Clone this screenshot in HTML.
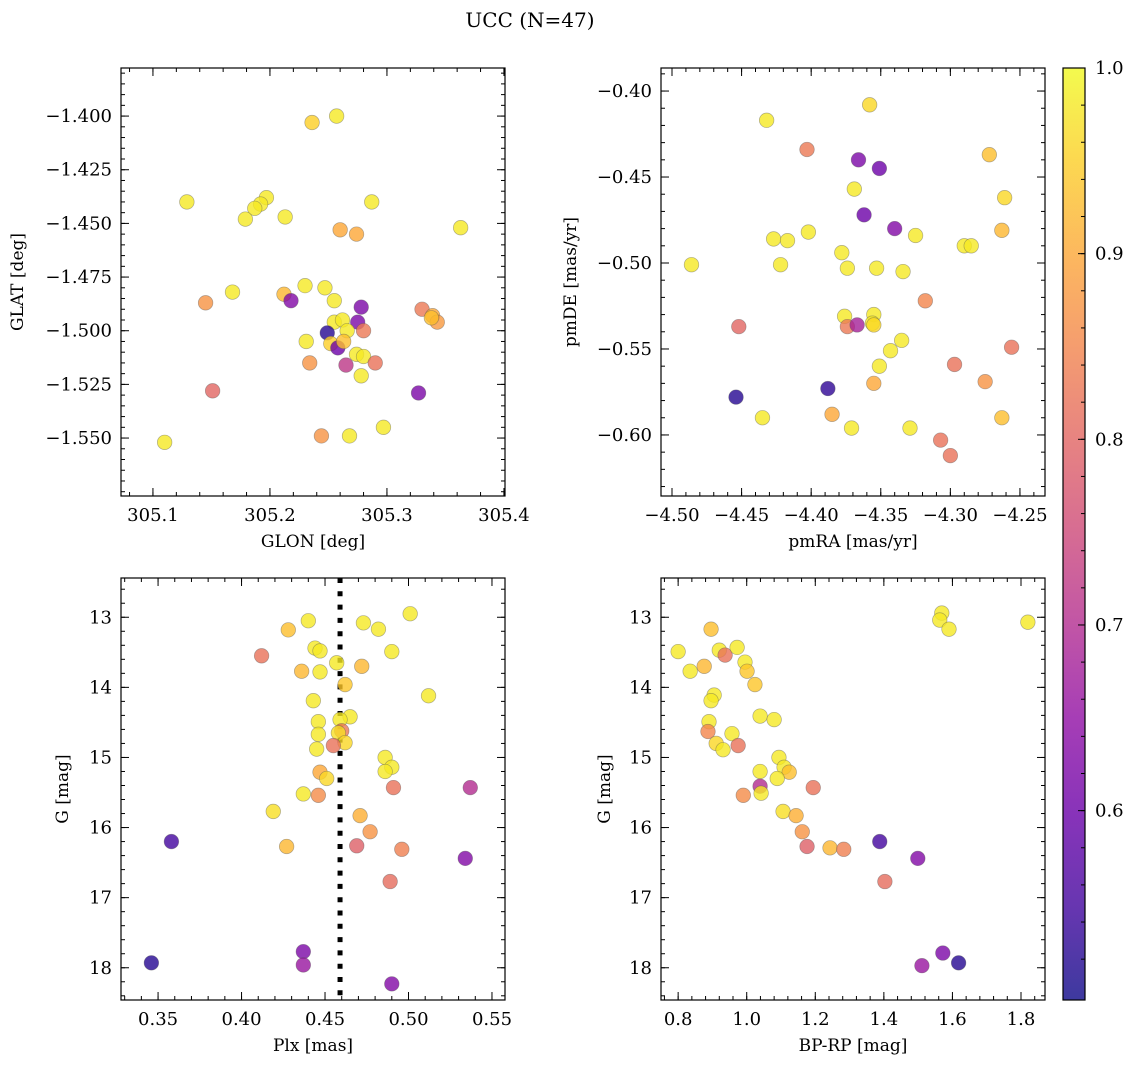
<!DOCTYPE html>
<html><head><meta charset="utf-8">
<style>
body{margin:0;background:#fff;}
svg text{font-family:"DejaVu Serif","Liberation Serif",serif;fill:#000;}
</style></head>
<body>
<svg id="fig" width="1136" height="1068" viewBox="0 0 1136 1068" xmlns="http://www.w3.org/2000/svg">
<defs>
<linearGradient id="cbgrad" x1="0" y1="1" x2="0" y2="0">
<stop offset="0" stop-color="#0d0887"/><stop offset="0.1" stop-color="#41049d"/><stop offset="0.2" stop-color="#6a00a8"/><stop offset="0.3" stop-color="#8f0da4"/><stop offset="0.4" stop-color="#b12a90"/><stop offset="0.5" stop-color="#cc4778"/><stop offset="0.6" stop-color="#e16462"/><stop offset="0.7" stop-color="#f2844b"/><stop offset="0.8" stop-color="#fca636"/><stop offset="0.9" stop-color="#fcce25"/><stop offset="1" stop-color="#f0f921"/>
</linearGradient>
</defs>
<text x="530" y="27" text-anchor="middle" font-size="20">UCC (N=47)</text>
</svg>
<script>
// ---- data (value arrays) ----
const glon = [305.145,305.168,305.212,305.218,305.230,305.247,305.255,305.278,305.275,305.280,305.255,305.262,305.266,305.249,305.231,305.252,305.258,305.263,305.274,305.280,305.290,305.234,305.265,305.278,305.151,305.330,305.339,305.343,305.338,305.327,305.236,305.257,305.129,305.197,305.192,305.187,305.179,305.213,305.287,305.260,305.274,305.363,305.110,305.244,305.268,305.297];
const glat = [-1.487,-1.482,-1.483,-1.486,-1.479,-1.480,-1.486,-1.489,-1.496,-1.500,-1.496,-1.495,-1.500,-1.501,-1.505,-1.506,-1.508,-1.505,-1.511,-1.512,-1.515,-1.515,-1.516,-1.521,-1.528,-1.490,-1.493,-1.496,-1.494,-1.529,-1.403,-1.400,-1.440,-1.438,-1.441,-1.443,-1.448,-1.447,-1.440,-1.453,-1.455,-1.452,-1.552,-1.549,-1.549,-1.545];
const prob1 = [0.87,0.98,0.92,0.63,0.98,0.98,0.98,0.62,0.62,0.83,0.98,0.98,0.98,0.52,0.98,0.95,0.60,0.93,0.98,0.98,0.82,0.87,0.72,0.98,0.80,0.83,0.90,0.88,0.93,0.62,0.95,0.98,0.98,0.98,0.98,0.98,0.98,0.98,0.98,0.90,0.90,0.98,0.98,0.87,0.98,0.98];

const pmra = [-4.432,-4.358,-4.403,-4.366,-4.351,-4.272,-4.369,-4.362,-4.261,-4.340,-4.427,-4.417,-4.402,-4.325,-4.263,-4.290,-4.285,-4.486,-4.422,-4.378,-4.353,-4.374,-4.334,-4.318,-4.376,-4.355,-4.356,-4.374,-4.367,-4.355,-4.452,-4.335,-4.343,-4.351,-4.297,-4.256,-4.388,-4.355,-4.275,-4.454,-4.435,-4.385,-4.371,-4.329,-4.263,-4.307,-4.300];
const pmde = [-0.417,-0.408,-0.434,-0.440,-0.445,-0.437,-0.457,-0.472,-0.462,-0.480,-0.486,-0.487,-0.482,-0.484,-0.481,-0.490,-0.490,-0.501,-0.501,-0.494,-0.503,-0.503,-0.505,-0.522,-0.531,-0.530,-0.535,-0.537,-0.536,-0.536,-0.537,-0.545,-0.551,-0.560,-0.559,-0.549,-0.573,-0.570,-0.569,-0.578,-0.590,-0.588,-0.596,-0.596,-0.590,-0.603,-0.612];
const prob2 = [0.98,0.96,0.83,0.62,0.60,0.93,0.98,0.60,0.96,0.63,0.98,0.98,0.98,0.98,0.92,0.98,0.98,0.98,0.98,0.98,0.98,0.98,0.98,0.85,0.98,0.98,0.98,0.83,0.68,0.96,0.80,0.98,0.98,0.98,0.82,0.82,0.53,0.90,0.87,0.52,0.98,0.90,0.98,0.98,0.93,0.82,0.82];

const plx = [0.440,0.428,0.473,0.482,0.501,0.412,0.444,0.447,0.490,0.457,0.472,0.436,0.447,0.462,0.512,0.443,0.465,0.446,0.459,0.460,0.458,0.446,0.462,0.445,0.455,0.486,0.490,0.486,0.447,0.451,0.437,0.446,0.491,0.537,0.419,0.471,0.477,0.358,0.427,0.469,0.496,0.534,0.489,0.437,0.437,0.346,0.490];
const gmag3 = [13.05,13.18,13.08,13.17,12.95,13.55,13.44,13.48,13.49,13.65,13.70,13.77,13.78,13.96,14.12,14.19,14.42,14.49,14.46,14.62,14.65,14.67,14.79,14.88,14.83,15.00,15.14,15.20,15.21,15.30,15.52,15.54,15.43,15.43,15.77,15.83,16.06,16.20,16.27,16.26,16.31,16.44,16.77,17.77,17.96,17.93,18.23];
const prob3 = [0.98,0.93,0.98,0.98,0.98,0.82,0.98,0.98,0.98,0.98,0.92,0.92,0.98,0.94,0.98,0.98,0.98,0.98,0.98,0.83,0.97,0.98,0.96,0.98,0.82,0.98,0.98,0.98,0.90,0.96,0.98,0.86,0.82,0.70,0.97,0.91,0.87,0.55,0.92,0.79,0.84,0.63,0.81,0.62,0.66,0.52,0.63];
const plxRef = [0.459];

const bprp = [0.896,0.800,0.920,0.937,0.972,0.995,1.001,0.876,0.835,1.024,0.905,0.896,1.039,1.080,0.890,0.887,0.957,0.911,0.931,0.975,1.094,1.109,1.124,1.089,1.039,1.039,1.042,0.990,1.194,1.106,1.144,1.162,1.176,1.243,1.569,1.563,1.590,1.820,1.388,1.283,1.499,1.403,1.572,1.511,1.618];
const gmag4 = [13.17,13.49,13.47,13.54,13.43,13.64,13.77,13.70,13.77,13.96,14.11,14.19,14.41,14.46,14.49,14.63,14.66,14.80,14.89,14.83,15.00,15.14,15.21,15.30,15.20,15.41,15.51,15.54,15.43,15.77,15.83,16.06,16.27,16.29,12.94,13.04,13.17,13.07,16.20,16.31,16.44,16.77,17.79,17.97,17.93];
const prob4 = [0.93,0.98,0.98,0.82,0.98,0.98,0.94,0.92,0.98,0.94,0.98,0.98,0.98,0.98,0.98,0.85,0.98,0.96,0.98,0.82,0.98,0.98,0.93,0.98,0.98,0.70,0.98,0.86,0.82,0.97,0.91,0.87,0.79,0.92,0.98,0.98,0.98,0.98,0.55,0.84,0.63,0.81,0.62,0.66,0.52];

const p1xTicks = [305.1,305.2,305.3,305.4];
const p1yTicks = [-1.400,-1.425,-1.450,-1.475,-1.500,-1.525,-1.550];
const p2xTicks = [-4.50,-4.45,-4.40,-4.35,-4.30,-4.25];
const p2yTicks = [-0.40,-0.45,-0.50,-0.55,-0.60];
const p3xTicks = [0.35,0.40,0.45,0.50,0.55];
const gTicks = [13,14,15,16,17,18];
const p4xTicks = [0.8,1.0,1.2,1.4,1.6,1.8];
const cbTicks = [0.6,0.7,0.8,0.9,1.0];

// ---- rendering ----
const NS = "http://www.w3.org/2000/svg";
const svg = document.getElementById('fig');
const VMIN = 0.498, VMAX = 1.0;
const TICKFS = 18, LABFS = 17;
const stops = [[13,8,135],[65,4,157],[106,0,168],[143,13,164],[177,42,144],[204,71,120],[225,100,98],[242,132,75],[252,166,54],[252,206,37],[240,249,33]];
function plasma(p){
  let t = Math.max(0, Math.min(1, (p - VMIN) / (VMAX - VMIN))) * 10;
  const i = Math.min(9, Math.floor(t)), f = t - i;
  const a = stops[i], b = stops[i+1];
  return 'rgb(' + [0,1,2].map(k => Math.round(a[k] + (b[k]-a[k])*f)).join(',') + ')';
}
function el(tag, attrs, parent){
  const e = document.createElementNS(NS, tag);
  for (const k in attrs) e.setAttribute(k, attrs[k]);
  (parent || svg).appendChild(e);
  return e;
}
function lin(d0, d1, r0, r1){ return v => r0 + (v - d0) / (d1 - d0) * (r1 - r0); }
function fmt(v, dec){ const s = Math.abs(v).toFixed(dec); return (v < 0 ? '\u2212' : '') + s; }

function panel(cfg){
  const g = el('g', {});
  
  
  const sx = lin(cfg.xd[0], cfg.xd[1], cfg.x0, cfg.x1);
  const sy = lin(cfg.yd[0], cfg.yd[1], cfg.y0, cfg.y1);
  const tg = el('g', {stroke:'#000','stroke-width':1}, g);
  function minorRange(d, step){
    const lo = Math.min(d[0], d[1]), hi = Math.max(d[0], d[1]);
    const out = [];
    for (let v = Math.ceil(lo/step - 1e-6)*step; v <= hi + 1e-9; v += step) out.push(v);
    return out;
  }
  minorRange(cfg.xd, cfg.xminor).forEach(v => {
    const x = sx(v);
    el('line', {x1:x, x2:x, y1:cfg.y1, y2:cfg.y1-4}, tg);
    el('line', {x1:x, x2:x, y1:cfg.y0, y2:cfg.y0+4}, tg);
  });
  minorRange(cfg.yd, cfg.yminor).forEach(v => {
    const y = sy(v);
    el('line', {x1:cfg.x0, x2:cfg.x0+4, y1:y, y2:y}, tg);
    el('line', {x1:cfg.x1, x2:cfg.x1-4, y1:y, y2:y}, tg);
  });
  cfg.xticks.forEach(v => {
    const x = sx(v);
    el('line', {x1:x, x2:x, y1:cfg.y1, y2:cfg.y1-8}, tg);
    el('line', {x1:x, x2:x, y1:cfg.y0, y2:cfg.y0+8}, tg);
    const t = el('text', {x:x, y:cfg.y1+25, 'text-anchor':'middle', 'font-size':TICKFS}, g);
    t.textContent = fmt(v, cfg.xdec);
    
    
  });
  cfg.yticks.forEach(v => {
    const y = sy(v);
    el('line', {x1:cfg.x0, x2:cfg.x0+8, y1:y, y2:y}, tg);
    el('line', {x1:cfg.x1, x2:cfg.x1-8, y1:y, y2:y}, tg);
    const t = el('text', {x:cfg.x0-9, y:y+6, 'text-anchor':'end', 'font-size':TICKFS}, g);
    t.textContent = fmt(v, cfg.ydec);
    
    
  });
  if (cfg.vline) {
    cfg.vline.forEach(v => {
      const l = el('line', {x1:sx(v), x2:sx(v), y1:cfg.y0, y2:cfg.y1, stroke:'#000','stroke-width':5,'stroke-dasharray':'5 8.3'}, g);
      
      
    });
  }
  const pg = el('g', {}, g);
  
  
  for (let i = 0; i < cfg.xs.length; i++) {
    const c = el('circle', {cx:sx(cfg.xs[i]), cy:sy(cfg.ys[i]), r:7.3, fill:plasma(cfg.ps[i]), 'fill-opacity':0.8, stroke:'#555', 'stroke-opacity':0.45, 'stroke-width':0.7}, pg);
    
    
  }
  const fr = el('rect', {x:cfg.x0, y:cfg.y0, width:cfg.x1-cfg.x0, height:cfg.y1-cfg.y0, fill:'none', stroke:'#000','stroke-width':1.2}, g);
  
  
  const xl = el('text', {x:(cfg.x0+cfg.x1)/2, y:cfg.y1+51, 'text-anchor':'middle', 'font-size':LABFS}, g);
  xl.textContent = cfg.xlabel;
  
  
  const yx = cfg.ylx, yy = (cfg.y0+cfg.y1)/2;
  const yl = el('text', {x:yx, y:yy, 'text-anchor':'middle', 'font-size':LABFS, transform:'rotate(-90 '+yx+' '+yy+')'}, g);
  yl.textContent = cfg.ylabel;
  
  
}

panel({name:'glon-glat-panel', x0:121, x1:505, y0:68, y1:496, xd:[305.0727,305.4009], yd:[-1.3776,-1.577],
  xticks:p1xTicks, yticks:p1yTicks, xminor:0.02, yminor:0.005, xdec:1, ydec:3,
  xs:glon, ys:glat, ps:prob1, xlabel:'GLON [deg]', ylabel:'GLAT [deg]', ylx:23});
panel({name:'proper-motion-panel', x0:661, x1:1045, y0:68, y1:496, xd:[-4.5079,-4.232], yd:[-0.3866,-0.6355],
  xticks:p2xTicks, yticks:p2yTicks, xminor:0.01, yminor:0.01, xdec:2, ydec:2,
  xs:pmra, ys:pmde, ps:prob2, xlabel:'pmRA [mas/yr]', ylabel:'pmDE [mas/yr]', ylx:576});
panel({name:'parallax-magnitude-panel', x0:121, x1:505, y0:578, y1:1000, xd:[0.3278,0.5578], yd:[12.44,18.46],
  xticks:p3xTicks, yticks:gTicks, xminor:0.01, yminor:0.2, xdec:2, ydec:0,
  xs:plx, ys:gmag3, ps:prob3, xlabel:'Plx [mas]', ylabel:'G [mag]', ylx:68, vline:plxRef});
panel({name:'color-magnitude-panel', x0:661, x1:1045, y0:578, y1:1000, xd:[0.750,1.870], yd:[12.44,18.46],
  xticks:p4xTicks, yticks:gTicks, xminor:0.04, yminor:0.2, xdec:1, ydec:0,
  xs:bprp, ys:gmag4, ps:prob4, xlabel:'BP-RP [mag]', ylabel:'G [mag]', ylx:610});

const cb = el('g', {});


const cbx0 = 1063, cbx1 = 1085, cby0 = 68, cby1 = 1000;
const cs = lin(VMIN, VMAX, cby1, cby0);
el('rect', {x:cbx0, y:cby0, width:cbx1-cbx0, height:cby1-cby0, fill:'url(#cbgrad)', 'fill-opacity':0.8}, cb);
for (let v = 0.52; v < 1.0; v += 0.02) {
  el('line', {x1:cbx1, x2:cbx1-4, y1:cs(v), y2:cs(v), stroke:'#000','stroke-width':1}, cb);
}
cbTicks.forEach(v => {
  el('line', {x1:cbx1, x2:cbx1-7, y1:cs(v), y2:cs(v), stroke:'#000','stroke-width':1}, cb);
  const t = el('text', {x:cbx1+10, y:cs(v)+6, 'font-size':TICKFS}, cb);
  t.textContent = v.toFixed(1);
  
  
});
el('rect', {x:cbx0, y:cby0, width:cbx1-cbx0, height:cby1-cby0, fill:'none', stroke:'#000','stroke-width':1.2}, cb);
</script>
</body></html>
